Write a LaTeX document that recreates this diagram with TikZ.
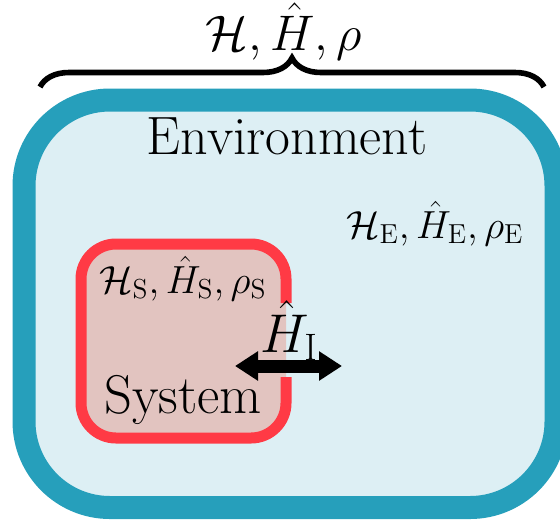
\RequirePackage{fix-cm}
\documentclass[tikz,border=0pt]{standalone}
\usetikzlibrary{arrows.meta,decorations.pathreplacing}
\definecolor{envline}{RGB}{38,159,187}
\definecolor{envfill}{RGB}{221,239,244}
\definecolor{sysline}{RGB}{255,58,69}
\definecolor{sysfill}{RGB}{226,196,192}
\begin{document}
\begin{tikzpicture}[x=0.5pt,y=-0.5pt,font=\fontsize{27}{32}\selectfont,
  varsfont/.style={font=\fontsize{19.6}{24}\selectfont}]
\useasboundingbox (0,0) rectangle (560,520);
% environment
\draw[envline,fill=envfill,line width=11.5pt,rounded corners=43pt] (24,100) rectangle (556,507.5);
\draw[decorate,decoration={brace,amplitude=14.5pt},line width=2.8pt] (40,87)--(544,87);
\node[anchor=base,font=\fontsize{25}{30}\selectfont] (total) at (284,50) {$\mathcal{H},\hat{H},\rho$};
\node[anchor=base] (envname) at (287,154) {Environment};
\node[anchor=base,varsfont] (envvars) at (435,238) {$\mathcal{H}_{\mathrm{E}},\hat{H}_{\mathrm{E}},\rho_{\mathrm{E}}$};
% system, border left open for the coupling
\fill[sysfill,rounded corners=17.5pt] (81,244) rectangle (286,438);
\draw[sysline,line width=5.5pt,rounded corners=17.5pt] (286,377)--(286,438)--(81,438)--(81,244)--(286,244)--(286,303);
\node[anchor=base,varsfont] (sysvars) at (183,293) {$\mathcal{H}_{\mathrm{S}},\hat{H}_{\mathrm{S}},\rho_{\mathrm{S}}$};
\node[anchor=base,font=\fontsize{27.3}{32}\selectfont] (sysname) at (183,413) {System};
% interaction
\coordinate (intL) at (235,366);
\coordinate (intR) at (342,366);
\draw[{Triangle[length=11.5pt,width=14pt]}-{Triangle[length=11.5pt,width=14pt]},line width=6.5pt] (intL)--(intR);
\node[anchor=base,font=\fontsize{27.3}{32}\selectfont] (coupling) at (289,352) {$\hat{H}_{\mathrm{I}}$};
\end{tikzpicture}
\end{document}
